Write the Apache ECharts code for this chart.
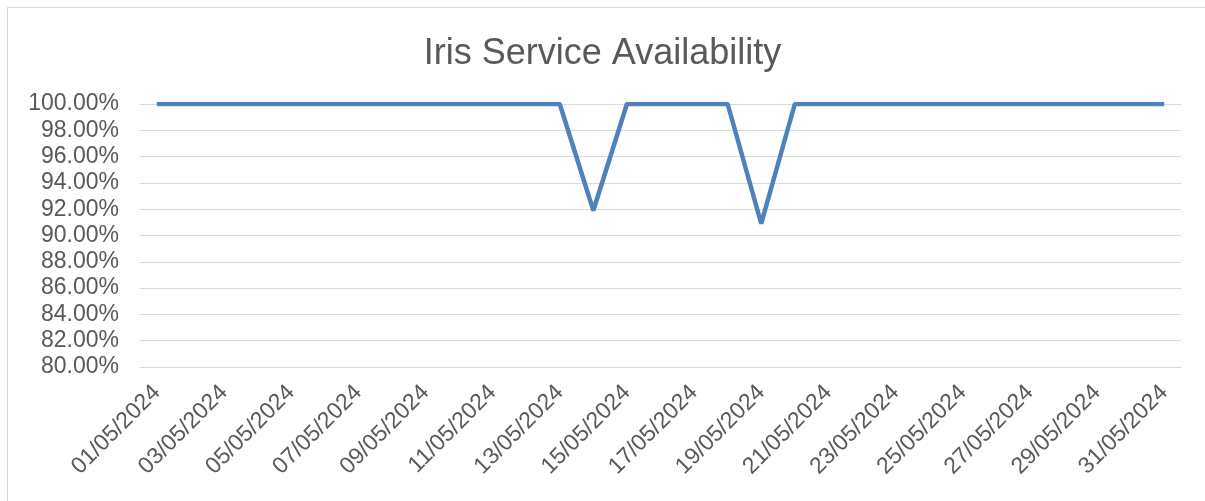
<!DOCTYPE html>
<html>
<head>
<meta charset="utf-8">
<script src="https://cdn.jsdelivr.net/npm/echarts@6/dist/echarts.min.js"></script>
<style>
  html, body { margin: 0; padding: 0; background: #fff; overflow: hidden; }
  #frame { position: absolute; left: 7px; top: 7px; width: 1300px; height: 600px; border: 1px solid #d9d9d9; }
  #chart { width: 1205px; height: 501px; position: absolute; left: 0; top: 0; }
</style>
</head>
<body>
<div id="frame"></div>
<div id="chart"></div>
<script>
const days = []
for (let d = 1; d <= 31; d++) {
  days.push(String(d).padStart(2, '0') + '/05/2024')
}

const availability = [
  100, 100, 100, 100, 100, 100, 100, 100, 100, 100,
  100, 100, 100, 91.9, 100, 100, 100, 100, 90.9, 100,
  100, 100, 100, 100, 100, 100, 100, 100, 100, 100,
  100
]

const myChart = echarts.init(document.getElementById('chart'))

myChart.setOption({
  animation: false,
  textStyle: { fontFamily: 'Liberation Sans, Arial, sans-serif' },
  title: {
    text: 'Iris Service Availability',
    left: 'center',
    top: 31,
    textStyle: {
      fontSize: 36,
      fontWeight: 'normal',
      color: '#595959'
    }
  },
  grid: {
    left: 140,
    right: 24,
    top: 104,
    bottom: 134
  },
  xAxis: {
    type: 'category',
    boundaryGap: true,
    data: days,
    axisLine: { lineStyle: { color: '#d9d9d9', width: 1 } },
    axisTick: {
      interval: 1,
      length: 6,
      lineStyle: { color: '#d9d9d9' }
    },
    axisLabel: {
      interval: 1,
      rotate: 45,
      fontSize: 23,
      color: '#595959',
      margin: 22
    }
  },
  yAxis: {
    type: 'value',
    min: 80,
    max: 100,
    interval: 2,
    axisLine: { show: false },
    axisTick: { show: false },
    splitLine: { lineStyle: { color: '#d9d9d9', width: 1 } },
    axisLabel: {
      fontSize: 23,
      color: '#595959',
      margin: 21,
      formatter: (v) => v.toFixed(2) + '%'
    }
  },
  series: [
    {
      name: 'Availability',
      type: 'line',
      data: availability,
      showSymbol: false,
      lineStyle: { width: 4.5, color: '#4f81bd' },
      itemStyle: { color: '#4f81bd' }
    }
  ]
})
</script>
</body>
</html>
